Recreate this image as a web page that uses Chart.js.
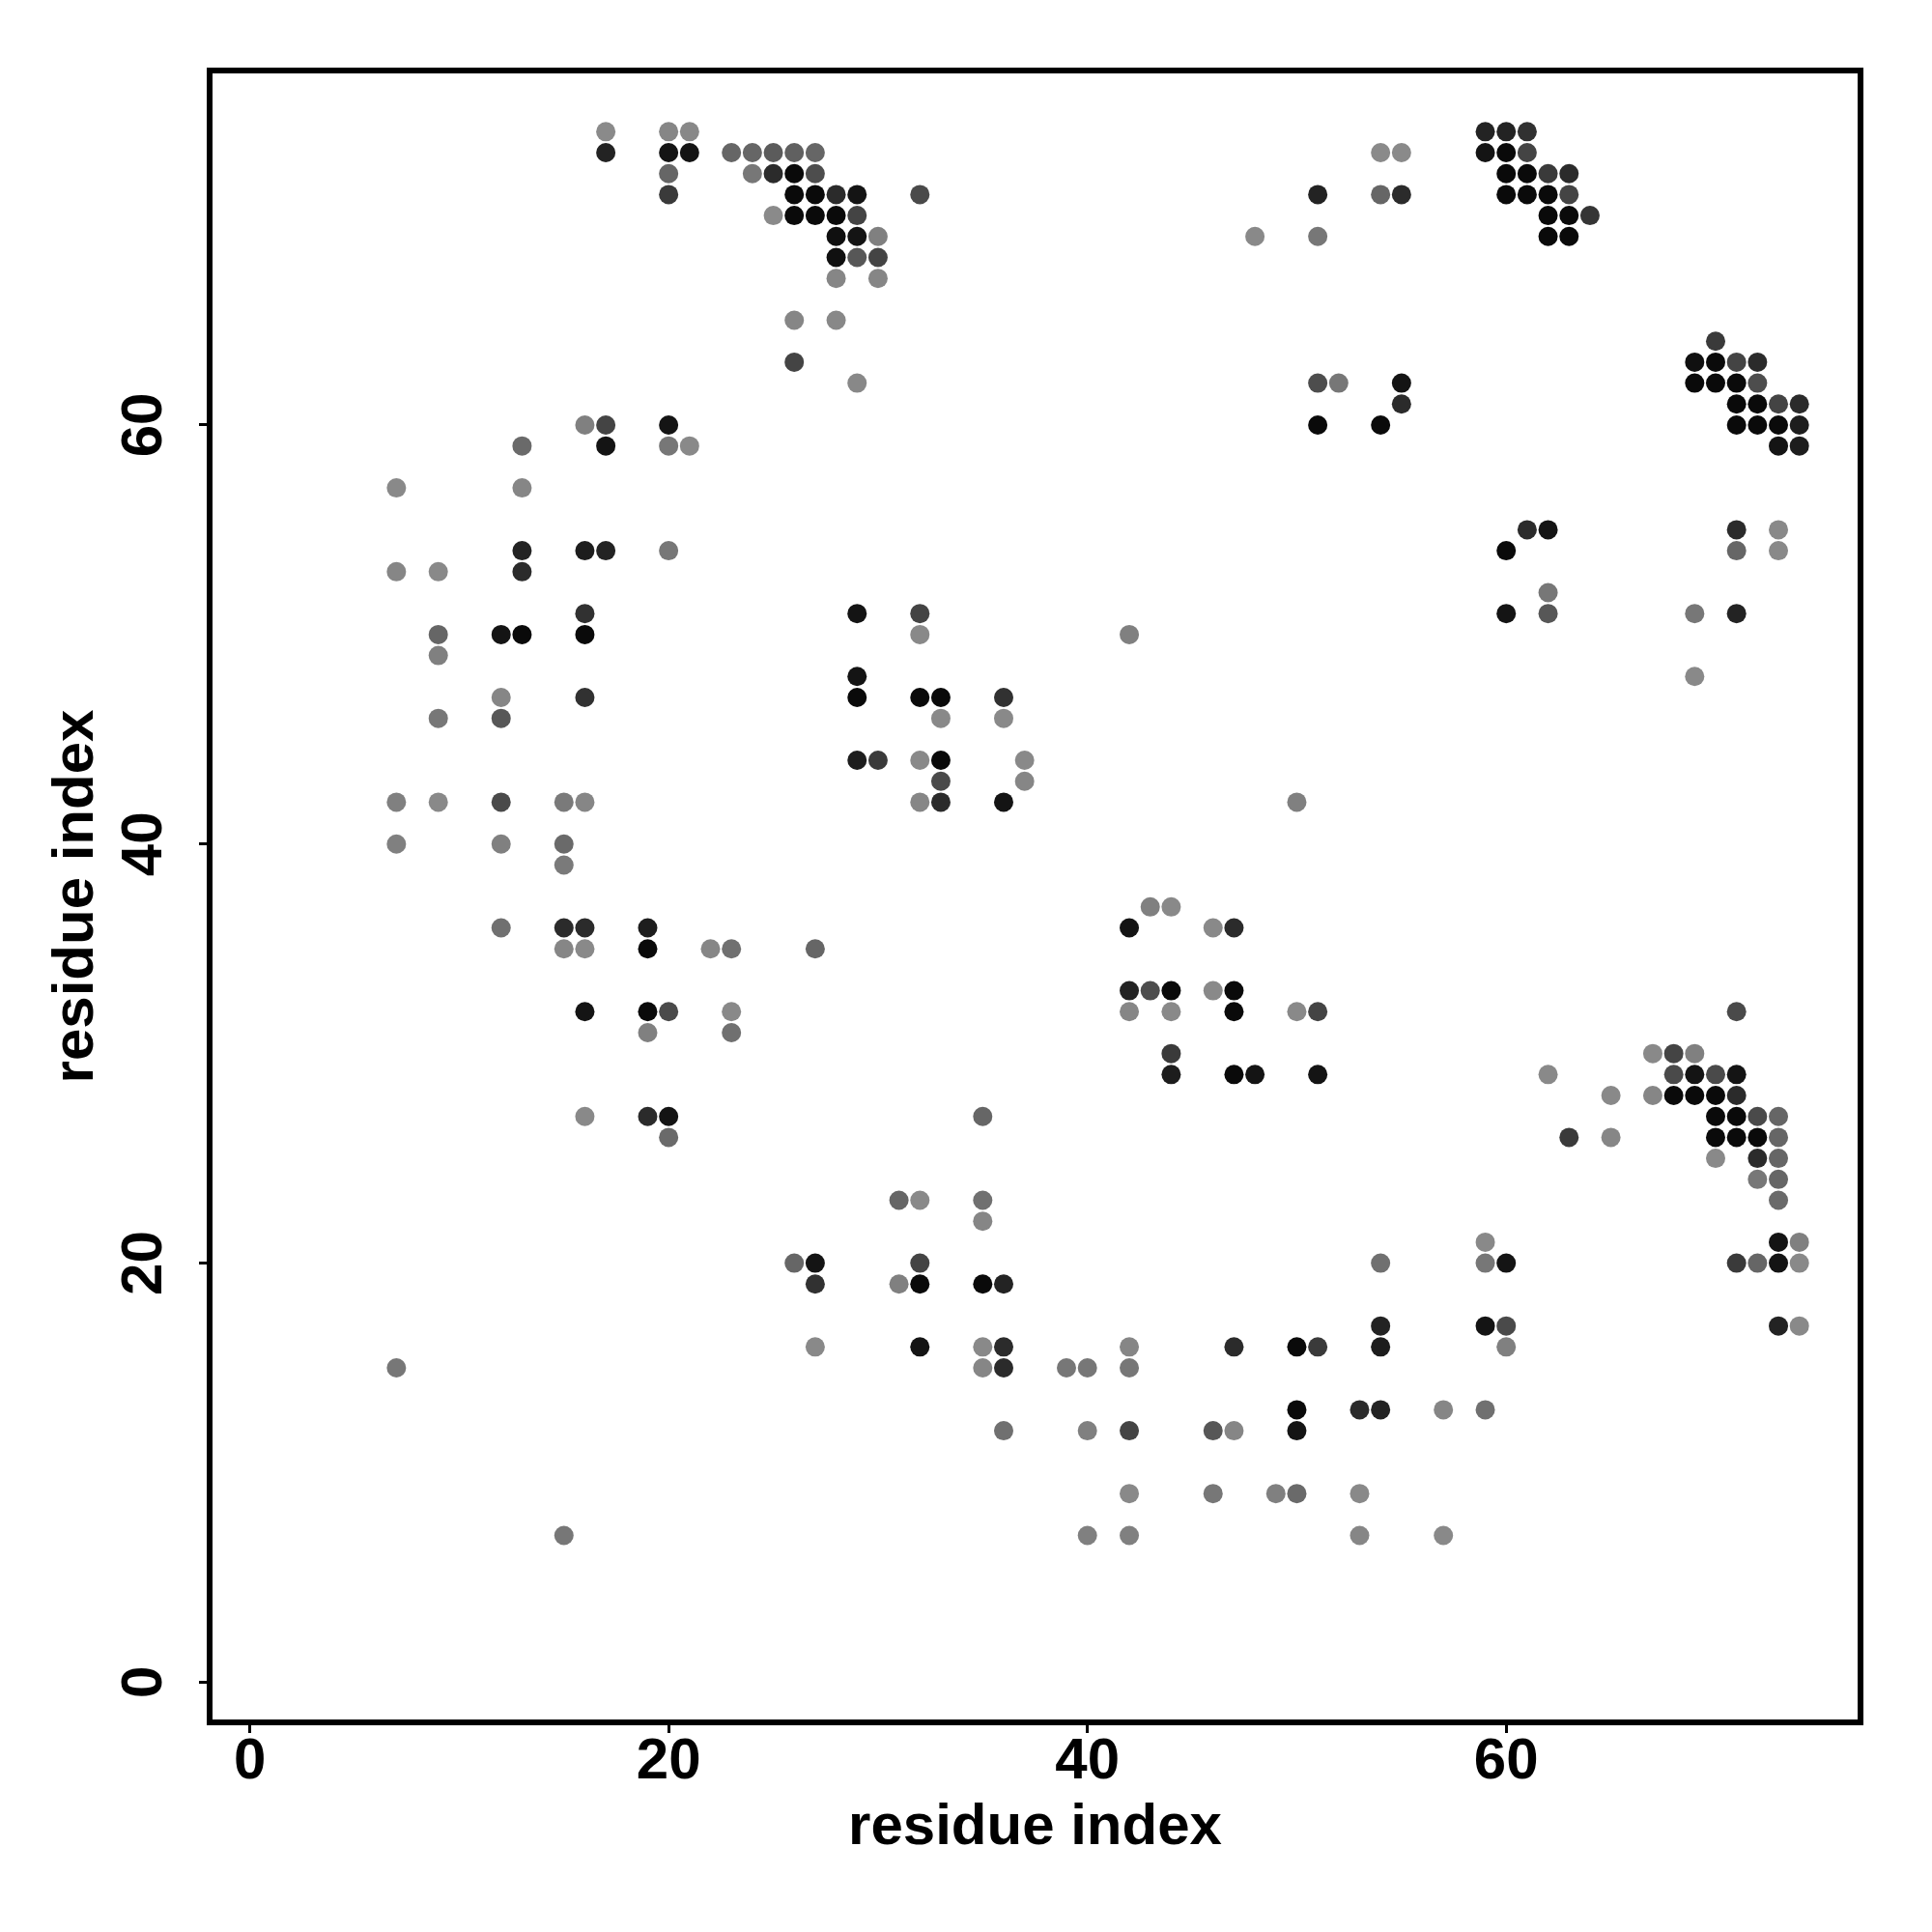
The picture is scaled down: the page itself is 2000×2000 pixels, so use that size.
<!DOCTYPE html>
<html>
<head>
<meta charset="utf-8">
<script src="https://cdn.jsdelivr.net/npm/chart.js@4.4.1/dist/chart.umd.min.js"></script>
<style>
  html, body { margin: 0; background: #fff; }
</style>
</head>
<body>
<canvas id="contactMap" width="2000" height="2000"></canvas>
<script>
// residue pairs (i = x, j = y) and contact score (darker = stronger)
const resI = [
  17, 20, 21, 59, 60, 61,
  17, 20, 21, 23, 24, 25, 26, 27, 54, 55, 59, 60, 61,
  20, 24, 25, 26, 27, 60, 61, 62, 63,
  20, 26, 27, 28, 29, 32, 51, 54, 55, 60, 61, 62, 63,
  25, 26, 27, 28, 29, 62, 63, 64,
  28, 29, 30, 48, 51, 62, 63,
  28, 29, 30,
  28, 30,
  26, 28,
  70,
  26, 69, 70, 71, 72,
  29, 51, 52, 55, 69, 70, 71, 72,
  55, 71, 72, 73, 74,
  16, 17, 20, 51, 54, 71, 72, 73, 74,
  13, 17, 20, 21, 73, 74,
  7, 13,
  61, 62, 71, 73,
  13, 16, 17, 20, 60, 71, 73,
  7, 9, 13,
  62,
  16, 29, 32, 60, 62, 69, 71,
  9, 12, 13, 16, 32, 42,
  9,
  29, 69,
  12, 16, 29, 32, 33, 36,
  9, 12, 33, 36,
  29, 30, 32, 33, 37,
  33, 37,
  7, 9, 12, 15, 16, 32, 33, 36, 50,
  7, 12, 15,
  15,
  43, 44,
  12, 15, 16, 19, 42, 46, 47,
  15, 16, 19, 22, 23, 27,
  42, 43, 44, 46, 47,
  16, 19, 20, 23, 42, 44, 47, 50, 51, 71,
  19, 23,
  44, 67, 68, 69,
  44, 47, 48, 51, 62, 68, 69, 70, 71,
  65, 67, 68, 69, 70, 71,
  16, 19, 20, 35, 70, 71, 72, 73,
  20, 63, 65, 70, 71, 72, 73,
  70, 72, 73,
  72, 73,
  31, 32, 35, 73,
  35,
  59, 73, 74,
  26, 27, 32, 54, 59, 60, 71, 72, 73, 74,
  27, 31, 32, 35, 36,
  54, 59, 60, 73, 74,
  27, 32, 35, 36, 42, 47, 50, 51, 54, 60,
  7, 35, 36, 39, 40, 42,
  50, 53, 54, 57, 59,
  36, 40, 42, 46, 47, 50,
  42, 46, 49, 50, 53,
  15, 40, 42, 53, 57
];

const resJ = [
  74, 74, 74, 74, 74, 74,
  73, 73, 73, 73, 73, 73, 73, 73, 73, 73, 73, 73, 73,
  72, 72, 72, 72, 72, 72, 72, 72, 72,
  71, 71, 71, 71, 71, 71, 71, 71, 71, 71, 71, 71, 71,
  70, 70, 70, 70, 70, 70, 70, 70,
  69, 69, 69, 69, 69, 69, 69,
  68, 68, 68,
  67, 67,
  65, 65,
  64,
  63, 63, 63, 63, 63,
  62, 62, 62, 62, 62, 62, 62, 62,
  61, 61, 61, 61, 61,
  60, 60, 60, 60, 60, 60, 60, 60, 60,
  59, 59, 59, 59, 59, 59,
  57, 57,
  55, 55, 55, 55,
  54, 54, 54, 54, 54, 54, 54,
  53, 53, 53,
  52,
  51, 51, 51, 51, 51, 51, 51,
  50, 50, 50, 50, 50, 50,
  49,
  48, 48,
  47, 47, 47, 47, 47, 47,
  46, 46, 46, 46,
  44, 44, 44, 44, 44,
  43, 43,
  42, 42, 42, 42, 42, 42, 42, 42, 42,
  40, 40, 40,
  39,
  37, 37,
  36, 36, 36, 36, 36, 36, 36,
  35, 35, 35, 35, 35, 35,
  33, 33, 33, 33, 33,
  32, 32, 32, 32, 32, 32, 32, 32, 32, 32,
  31, 31,
  30, 30, 30, 30,
  29, 29, 29, 29, 29, 29, 29, 29, 29,
  28, 28, 28, 28, 28, 28,
  27, 27, 27, 27, 27, 27, 27, 27,
  26, 26, 26, 26, 26, 26, 26,
  25, 25, 25,
  24, 24,
  23, 23, 23, 23,
  22,
  21, 21, 21,
  20, 20, 20, 20, 20, 20, 20, 20, 20, 20,
  19, 19, 19, 19, 19,
  17, 17, 17, 17, 17,
  16, 16, 16, 16, 16, 16, 16, 16, 16, 16,
  15, 15, 15, 15, 15, 15,
  13, 13, 13, 13, 13,
  12, 12, 12, 12, 12, 12,
  9, 9, 9, 9, 9,
  7, 7, 7, 7, 7
];

const score = [
  0.1, 0.2, 0.15, 0.87, 0.87, 0.8,
  0.87, 0.95, 0.95, 0.52, 0.52, 0.58, 0.55, 0.52, 0.1, 0.1, 0.95, 1.0, 0.7,
  0.52, 0.4, 0.83, 1.0, 0.65, 1.0, 1.0, 0.75, 0.83,
  0.75, 1.0, 1.0, 0.83, 0.95, 0.67, 0.87, 0.52, 0.83, 1.0, 1.0, 1.0, 0.7,
  0.1, 1.0, 1.0, 1.0, 0.7, 1.0, 1.0, 0.78,
  0.97, 0.95, 0.33, 0.12, 0.4, 1.0, 1.0,
  0.97, 0.6, 0.7,
  0.2, 0.2,
  0.2, 0.15,
  0.75,
  0.7, 0.97, 1.0, 0.7, 0.83,
  0.15, 0.65, 0.4, 0.95, 1.0, 1.0, 1.0, 0.65,
  0.83, 1.0, 1.0, 0.7, 0.83,
  0.33, 0.7, 0.95, 1.0, 1.0, 1.0, 1.0, 1.0, 0.9,
  0.5, 0.95, 0.4, 0.12, 0.95, 0.9,
  0.12, 0.2,
  0.83, 0.95, 0.83, 0.12,
  0.87, 0.9, 0.87, 0.4, 1.0, 0.52, 0.12,
  0.2, 0.12, 0.83,
  0.4,
  0.8, 0.95, 0.7, 0.95, 0.6, 0.4, 0.87,
  0.52, 0.95, 1.0, 1.0, 0.12, 0.33,
  0.33,
  0.95, 0.12,
  0.2, 0.8, 1.0, 1.0, 1.0, 0.8,
  0.4, 0.6, 0.12, 0.12,
  0.9, 0.75, 0.12, 1.0, 0.12,
  0.67, 0.2,
  0.33, 0.12, 0.67, 0.38, 0.2, 0.2, 0.83, 0.95, 0.33,
  0.33, 0.33, 0.5,
  0.38,
  0.33, 0.12,
  0.45, 0.83, 0.83, 0.9, 0.95, 0.12, 0.83,
  0.2, 0.12, 1.0, 0.2, 0.45, 0.52,
  0.87, 0.65, 1.0, 0.12, 1.0,
  0.95, 1.0, 0.67, 0.12, 0.2, 0.12, 1.0, 0.12, 0.7, 0.67,
  0.33, 0.45,
  0.75, 0.12, 0.7, 0.33,
  0.9, 1.0, 0.95, 0.95, 0.12, 0.67, 0.95, 0.67, 0.95,
  0.12, 0.2, 1.0, 1.0, 1.0, 0.83,
  0.12, 0.83, 0.95, 0.52, 1.0, 1.0, 0.67, 0.52,
  0.5, 0.75, 0.2, 1.0, 1.0, 1.0, 0.52,
  0.12, 0.83, 0.52,
  0.4, 0.52,
  0.52, 0.12, 0.45, 0.5,
  0.2,
  0.12, 0.95, 0.33,
  0.52, 0.95, 0.7, 0.45, 0.4, 0.95, 0.75, 0.52, 0.95, 0.12,
  0.8, 0.33, 1.0, 1.0, 0.87,
  0.87, 0.95, 0.67, 0.87, 0.12,
  0.12, 0.95, 0.12, 0.83, 0.2, 0.83, 1.0, 0.75, 0.9, 0.33,
  0.4, 0.2, 0.83, 0.4, 0.4, 0.4,
  1.0, 0.83, 0.87, 0.2, 0.45,
  0.45, 0.33, 0.7, 0.6, 0.2, 0.95,
  0.12, 0.4, 0.33, 0.5, 0.12,
  0.4, 0.33, 0.33, 0.2, 0.12
];

const axisTicks = [0, 20, 40, 60];
const axisMin = -1.92;
const axisMax = 76.92;

// score -> grey level (piecewise linear, light grey to near black)
function greyFor(s) {
  const knots = [0, 0.33, 0.5, 0.7, 1];
  const greys = [142, 128, 106, 68, 10];
  let k = 1;
  while (k < knots.length - 1 && s > knots[k]) k++;
  const t = (s - knots[k - 1]) / (knots[k] - knots[k - 1]);
  const g = Math.round(greys[k - 1] + t * (greys[k] - greys[k - 1]));
  return 'rgb(' + g + ',' + g + ',' + g + ')';
}

const points = resI.map((x, i) => ({ x: x, y: resJ[i] }));
const colors = score.map(greyFor);

const labelFont = { family: '"Liberation Sans", Arial, sans-serif', size: 60, weight: 'bold', lineHeight: 1 };
const titleFont = { family: '"Liberation Sans", Arial, sans-serif', size: 60, weight: 'bold', lineHeight: 1.2 };

const frame = {
  id: 'frame',
  afterDatasetsDraw(chart) {
    const a = chart.chartArea;
    const ctx = chart.ctx;
    ctx.save();
    ctx.strokeStyle = '#000';
    ctx.lineWidth = 6;
    ctx.strokeRect(a.left, a.top, a.right - a.left, a.bottom - a.top);
    ctx.restore();
  }
};

new Chart(document.getElementById('contactMap'), {
  type: 'scatter',
  data: {
    datasets: [{
      data: points,
      backgroundColor: colors,
      borderWidth: 0,
      pointRadius: 10,
      pointHoverRadius: 10
    }]
  },
  options: {
    responsive: false,
    devicePixelRatio: 1,
    animation: false,
    layout: { padding: { left: 0, right: 74, top: 73, bottom: 0 } },
    plugins: { legend: { display: false }, tooltip: { enabled: false } },
    scales: {
      x: {
        type: 'linear',
        min: axisMin,
        max: axisMax,
        afterBuildTicks: s => { s.ticks = axisTicks.map(v => ({ value: v })) },
        afterFit: s => { s.height = 217 },
        border: { display: false },
        grid: { drawOnChartArea: false, tickLength: 11, tickWidth: 3, tickColor: '#000' },
        ticks: { font: labelFont, color: '#000', padding: 0, maxRotation: 0, autoSkip: false },
        title: { display: true, text: 'residue index', font: titleFont, color: '#000', padding: { top: 0, bottom: 72 } }
      },
      y: {
        type: 'linear',
        min: axisMin,
        max: axisMax,
        afterBuildTicks: s => { s.ticks = axisTicks.map(v => ({ value: v })) },
        afterFit: s => { s.width = 217 },
        border: { display: false },
        grid: { drawOnChartArea: false, tickLength: 11, tickWidth: 3, tickColor: '#000' },
        ticks: { font: labelFont, color: '#000', padding: 22, minRotation: 90, maxRotation: 90, crossAlign: 'center', autoSkip: false },
        title: { display: true, text: 'residue index', font: titleFont, color: '#000', padding: { top: 43, bottom: 0 } }
      }
    }
  },
  plugins: [frame]
});
</script>
</body>
</html>
